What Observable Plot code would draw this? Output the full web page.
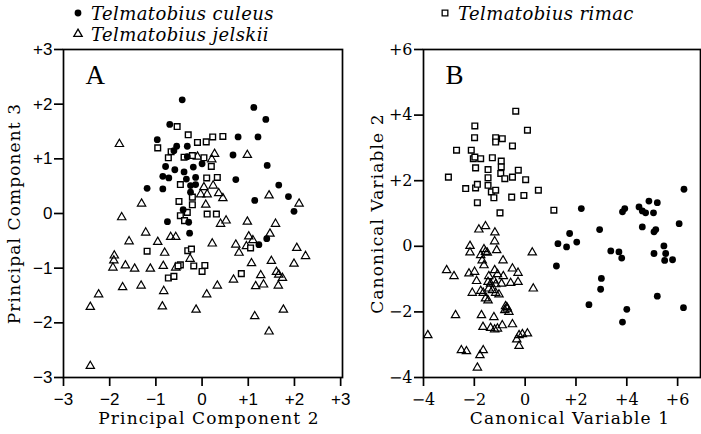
<!DOCTYPE html>
<html><head><meta charset="utf-8">
<script src="https://cdn.jsdelivr.net/npm/d3@7"></script>
<script src="https://cdn.jsdelivr.net/npm/@observablehq/plot@0.6"></script>
<style>
body{margin:0;background:#fff;}
#wrap{position:relative;width:701px;height:434px;overflow:hidden;background:#fff;}
#wrap svg.panel{position:absolute;top:0;}
.leg{position:absolute;display:flex;align-items:center;height:22px;font-family:"DejaVu Serif";font-style:italic;font-size:18px;letter-spacing:0.4px;white-space:nowrap;color:#000;}
.leg svg{margin-right:7px;}
</style></head>
<body><div id="wrap"></div>
<script>
// ---- Species names (legend) ----
const speciesNames = ["Telmatobius culeus", "Telmatobius jelskii", "Telmatobius rimac"];

// ---- Panel A: Principal Component 2 (x) vs Principal Component 3 (y) ----
const pcCuleus = [
  [-0.43,2.08],[-0.70,1.63],[-0.97,1.35],[-0.55,1.23],[-0.61,1.15],[-0.32,1.23],[-0.32,1.04],
  [-0.79,0.86],[-0.59,0.80],[-0.39,0.76],[-0.19,0.85],[0.00,0.91],[-0.85,0.68],[-0.72,0.65],
  [-0.34,0.63],[-0.14,0.66],[-1.19,0.46],[-0.85,0.45],[-0.25,0.51],[-0.14,0.53],[-0.25,0.39],
  [-0.41,0.07],[-0.75,-0.15],[-0.29,-0.16],[-0.27,-0.36],[1.12,1.94],[1.38,1.72],[0.78,1.40],
  [1.21,1.40],[0.67,1.07],[1.41,0.88],[0.73,0.62],[1.66,0.52],[1.87,0.31],[1.14,0.24],
  [1.99,0.04],[1.40,-0.46],[1.23,-0.57]
];
const pcJelskii = [
  [-1.79,1.27],[-0.10,1.04],[0.27,1.09],[0.21,0.99],[0.04,0.48],[0.24,0.51],[-0.03,0.35],
  [0.11,0.35],[0.36,0.37],[0.45,0.28],[-1.31,0.18],[0.08,0.16],[-1.74,-0.07],[0.40,-0.19],
  [0.52,-0.13],[-1.22,-0.35],[-0.68,-0.43],[-0.57,-0.43],[-1.58,-0.51],[-0.96,-0.52],[0.22,-0.55],
  [-0.81,-0.72],[-1.90,-0.77],[-1.91,-0.86],[-0.26,-0.83],[-1.93,-0.99],[-1.66,-0.95],[-1.46,-1.01],
  [-1.12,-1.01],[-0.84,-0.96],[-0.57,-0.99],[-1.72,-1.35],[-1.32,-1.32],[-0.83,-1.42],[0.10,-1.48],
  [0.33,-1.32],[-2.24,-1.48],[-2.42,-1.71],[-0.86,-1.70],[-0.13,-1.76],[-2.42,-2.79],[0.98,1.07],
  [1.45,0.33],[2.10,0.18],[0.98,-0.15],[1.59,-0.19],[1.47,-0.37],[1.01,-0.42],[1.10,-0.49],
  [0.73,-0.57],[0.80,-0.72],[0.96,-0.60],[2.05,-0.63],[2.24,-0.78],[1.99,-0.92],[1.50,-0.87],
  [1.07,-0.91],[1.61,-1.07],[1.66,-1.12],[1.74,-1.18],[1.65,-1.32],[1.27,-1.13],[1.16,-1.33],
  [1.33,-1.30],[0.68,-1.21],[1.76,-1.76],[1.14,-1.88],[1.45,-2.16]
];
const pcRimac = [
  [-0.54,1.59],[-0.96,1.20],[-0.30,1.44],[-0.10,1.30],[0.09,1.31],[0.23,1.40],[0.45,1.41],
  [-0.73,1.02],[-0.39,1.03],[-0.21,1.06],[0.04,1.02],[0.20,0.86],[0.10,0.65],[0.33,0.66],
  [-0.47,0.53],[-0.21,0.30],[-0.50,0.22],[-0.21,0.16],[-0.32,0.02],[-0.47,-0.04],[0.11,-0.01],
  [0.31,-0.01],[-0.38,-0.13],[-1.19,-0.69],[-0.31,-0.68],[-0.23,-0.65],[-0.47,-0.94],[-0.52,-0.96],
  [-0.18,-0.96],[0.06,-0.95],[0.00,-1.06],[-0.73,-1.18],[-0.61,-1.15],[1.05,-0.63],[0.85,-1.10],
  [-0.67,1.13]
];
const pcTicks = [-3, -2, -1, 0, 1, 2, 3];

// ---- Panel B: Canonical Variable 1 (x) vs Canonical Variable 2 (y) ----
const cvCuleus = [
  [6.25,1.74],[2.21,1.15],[3.92,1.15],[3.83,1.05],[4.48,1.20],[4.61,1.08],[4.74,1.02],[4.87,1.38],
  [5.20,1.33],[5.05,1.02],[2.93,0.51],[4.61,0.59],[5.14,0.51],[5.07,0.44],[6.06,0.69],[1.75,0.39],
  [1.29,0.08],[1.63,-0.02],[2.03,0.13],[1.23,-0.60],[3.37,-0.14],[3.69,-0.17],[3.80,-0.36],
  [5.07,-0.22],[5.46,0.01],[5.53,-0.22],[5.49,-0.43],[5.80,-0.41],[3.00,-0.98],[2.97,-1.31],
  [2.51,-1.78],[5.20,-1.52],[4.00,-1.92],[3.83,-2.31],[6.23,-1.87]
];
const cvJelskii = [
  [-1.82,0.51],[-1.56,0.61],[-1.19,0.42],[-1.20,0.15],[-2.17,0.01],[-2.17,-0.19],[-1.62,-0.09],
  [-1.56,-0.17],[-1.49,-0.20],[-1.12,-0.12],[-1.75,-0.27],[-1.69,-0.43],[-1.62,-0.58],[-0.87,-0.43],
  [0.28,-0.19],[-3.09,-0.73],[-2.80,-0.91],[-2.21,-0.83],[-1.99,-0.78],[-1.20,-0.73],[-1.09,-0.85],
  [-0.50,-0.68],[-0.28,-0.81],[-1.91,-1.06],[-1.43,-0.91],[-1.46,-1.09],[-1.36,-1.14],[-0.86,-0.91],
  [-1.23,-1.04],[-1.16,-1.16],[-0.93,-1.14],[-0.57,-1.12],[-0.28,-1.09],[-2.08,-1.42],[-1.75,-1.36],
  [-1.65,-1.42],[-1.43,-1.29],[-1.29,-1.34],[-1.16,-1.42],[-1.03,-1.47],[-1.56,-1.59],[-1.46,-1.65],
  [0.32,-1.29],[-0.77,-1.83],[-0.70,-1.90],[-0.80,-1.95],[-0.64,-2.00],[-0.72,-1.86],[-2.74,-2.10],
  [-1.72,-2.10],[-1.23,-2.16],[-1.66,-2.46],[-1.36,-2.49],[-1.20,-2.54],[-1.09,-2.51],[-0.90,-2.41],
  [-0.50,-2.38],[-3.83,-2.71],[-0.24,-2.71],[-0.11,-2.68],[0.09,-2.66],[-0.33,-2.84],[-0.24,-3.04],
  [-2.51,-3.17],[-2.31,-3.20],[-1.65,-3.17],[-1.78,-3.32],[-1.88,-3.70]
];
const cvRimac = [
  [-0.37,4.12],[0.09,3.54],[-1.98,3.67],[-1.99,3.31],[-1.16,3.31],[-0.90,3.28],[-1.16,3.18],
  [-0.50,3.06],[-2.70,2.93],[-2.12,2.93],[-2.04,2.67],[-1.98,2.72],[-1.75,2.67],[-1.29,2.70],
  [-0.94,2.60],[-1.95,2.39],[-1.46,2.34],[-0.94,2.42],[-0.27,2.32],[-0.96,2.22],[-1.46,2.09],
  [-0.80,2.06],[-0.50,2.11],[0.02,2.03],[-3.02,2.11],[-2.34,1.76],[-1.95,1.78],[-1.88,1.89],
  [-1.46,1.86],[-1.33,1.66],[-1.16,1.71],[-1.23,1.48],[-0.53,1.50],[-0.05,1.55],[0.52,1.71],
  [-1.88,1.33],[-0.99,1.02],[1.13,1.10]
];
const cvTicks = [-4, -2, 0, 2, 4, 6];

// ---- Labels ----
const labelsA = {x: "Principal Component 2", y: "Principal Component 3", panel: "A"};
const labelsB = {x: "Canonical Variable 1", y: "Canonical Variable 2", panel: "B"};

const INK = "#000";
const signed = d => d > 0 ? "+" + d : d < 0 ? "\u2212" + (-d) : "0";
const R = {circle: 3.4, triangle: 3.1, square: 3.2};

function dotMarks(cul, jel, rim) {
  const acc = {x: d => d[0], y: d => d[1]};
  return [
    Plot.dot(jel, {...acc, symbol: "triangle", r: R.triangle, stroke: INK, strokeWidth: 1.2, fill: "none"}),
    Plot.dot(rim, {...acc, symbol: "square", r: R.square, stroke: INK, strokeWidth: 1.4, fill: "white"}),
    Plot.dot(cul, {...acc, symbol: "circle", r: R.circle, fill: INK, stroke: "none"})
  ];
}

function titleMarks(lab, yDx, xDx) {
  const t = {fontFamily: "DejaVu Serif", fontSize: 17, fill: INK, textAnchor: "middle", lineAnchor: "middle"};
  return [
    Plot.text([lab.x], {...t, frameAnchor: "bottom", dx: xDx, dy: 41}),
    Plot.text([lab.y], {...t, frameAnchor: "left", dx: yDx, rotate: -90}),
    Plot.text([lab.panel], {frameAnchor: "top-left", dx: 22, dy: 34, textAnchor: "start", lineAnchor: "bottom", fontFamily: "Liberation Serif", fontSize: 27, fill: INK})
  ];
}

const plotA = Plot.plot({
  width: 352, height: 434,
  marginLeft: 63, marginRight: 10, marginTop: 49, marginBottom: 57,
  x: {domain: [-3, 3.04]},
  y: {domain: [-3, 3]},
  style: {fontFamily: "Liberation Sans", fontSize: "17px", color: INK, background: "transparent"},
  marks: [
    Plot.frame({stroke: INK, strokeWidth: 1.7}),
    Plot.axisX(pcTicks, {tickSize: 9, tickPadding: 6, tickFormat: signed, strokeWidth: 1.7, label: null, fontSize: 17}),
    Plot.axisY(pcTicks, {tickSize: 9, tickPadding: 2, tickFormat: signed, strokeWidth: 1.7, label: null, fontSize: 17}),
    ...titleMarks(labelsA, -49, 6),
    ...dotMarks(pcCuleus, pcJelskii, pcRimac)
  ]
});

const plotB = Plot.plot({
  width: 349, height: 434,
  marginLeft: 71, marginRight: 1, marginTop: 49, marginBottom: 57,
  x: {domain: [-4, 6.9]},
  y: {domain: [-4, 6]},
  style: {fontFamily: "DejaVu Serif", fontSize: "16px", color: INK, background: "transparent"},
  marks: [
    Plot.frame({stroke: INK, strokeWidth: 1.7}),
    Plot.axisX(cvTicks, {tickSize: 9, tickPadding: 7, tickFormat: signed, strokeWidth: 1.7, label: null, fontSize: 16}),
    Plot.axisY(cvTicks, {tickSize: 9, tickPadding: 2, tickFormat: signed, strokeWidth: 1.7, label: null, fontSize: 16}),
    ...titleMarks(labelsB, -46, 8),
    ...dotMarks(cvCuleus, cvJelskii, cvRimac)
  ]
});

// widen the typewriter-like axis titles
const titleSet = new Set([labelsA.x, labelsA.y, labelsB.x, labelsB.y]);
for (const p of [plotA, plotB]) {
  d3.select(p).selectAll("text").filter(function() { return titleSet.has(this.textContent); })
    .style("letter-spacing", "1.1px");
}

const wrap = document.getElementById("wrap");
plotA.classList.add("panel"); plotA.style.left = "0px";
plotB.classList.add("panel"); plotB.style.left = "352px";
wrap.appendChild(plotA);
wrap.appendChild(plotB);

// ---- Legend (HTML, above the plots) ----
const legendItems = [
  {name: speciesNames[0], symbol: d3.symbolCircle, r: R.circle, fill: INK, stroke: "none", left: 72, top: 2},
  {name: speciesNames[1], symbol: d3.symbolTriangle, r: R.triangle, fill: "none", stroke: INK, left: 72, top: 23},
  {name: speciesNames[2], symbol: d3.symbolSquare, r: R.square, fill: "none", stroke: INK, left: 439, top: 2}
];
for (const it of legendItems) {
  const div = document.createElement("div");
  div.className = "leg";
  div.style.left = it.left + "px";
  div.style.top = it.top + "px";
  const path = d3.symbol(it.symbol, Math.PI * it.r * it.r)();
  div.innerHTML = `<svg width="12" height="12" viewBox="-6 -6 12 12"><path d="${path}" fill="${it.fill}" stroke="${it.stroke}" stroke-width="1.3"/></svg><span>${it.name}</span>`;
  wrap.appendChild(div);
}
</script></body></html>
